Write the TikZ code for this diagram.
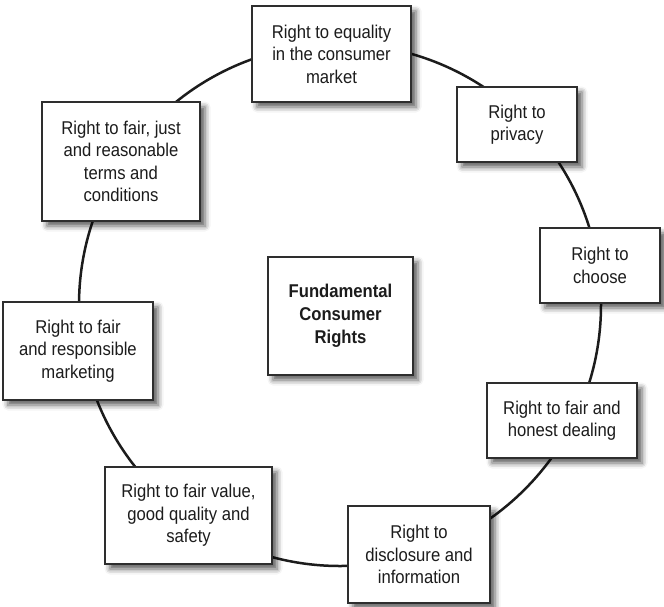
\documentclass[tikz,border=0pt]{standalone}
\usepackage{fontspec}
\setmainfont{Liberation Sans}[FakeStretch=0.9]
\usetikzlibrary{shadows.blur}
\definecolor{ink}{HTML}{1C1C1C}
\definecolor{edge}{HTML}{2E2E2E}
\tikzset{
  rbox/.style={draw=edge, line width=1.1pt, fill=white, inner sep=0pt, align=center,
    text=ink, font=\fontsize{18.5}{22.5}\selectfont,
    blur shadow={shadow xshift=5pt, shadow yshift=-5pt, shadow blur radius=5.5pt, shadow opacity=65}},
  ring/.style={draw=ink, line width=2.5pt}
}
\begin{document}
\begin{tikzpicture}[x=1pt,y=-1pt]
\useasboundingbox (0,0) rectangle (664,606);
\coordinate (c) at (340,305);
\draw[ring] (c) circle (261pt);
\node[rbox, minimum width=159pt, minimum height=96pt] (equality) at (331.5,54) {Right to equality\\in the consumer\\market};
\node[rbox, minimum width=120pt, minimum height=75pt] (privacy) at (517,124.5) {Right to\\privacy};
\node[rbox, minimum width=120pt, minimum height=75pt] (choose) at (600,265.5) {Right to\\choose};
\node[rbox, minimum width=150pt, minimum height=75pt] (honest) at (562,420.5) {Right to fair and\\honest dealing};
\node[rbox, minimum width=142pt, minimum height=97pt] (disclosure) at (419,554.5) {Right to\\disclosure and\\information};
\node[rbox, minimum width=167pt, minimum height=97pt] (value) at (188.5,515.5) {Right to fair value,\\good quality and\\safety};
\node[rbox, minimum width=150pt, minimum height=98pt] (marketing) at (78,351) {Right to fair\\and responsible\\marketing};
\node[rbox, minimum width=158pt, minimum height=119pt] (terms) at (121,161.5) {Right to fair, just\\and reasonable\\terms and\\conditions};
\node[rbox, minimum width=145pt, minimum height=118pt, font=\bfseries\fontsize{18.5}{23}\selectfont] (center) at (340.5,316) {Fundamental\\Consumer\\Rights};
\end{tikzpicture}
\end{document}
